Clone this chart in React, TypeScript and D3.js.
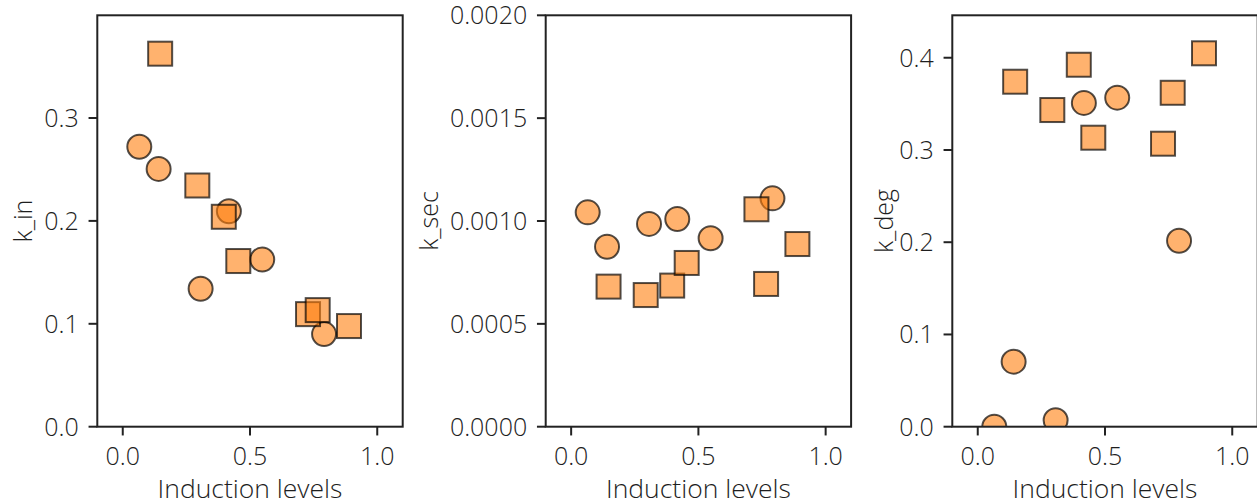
import React from "react";
import * as d3 from "d3";

// Shared induction levels (x) for the two marker groups
const circleX = [0.065, 0.141, 0.306, 0.417, 0.548, 0.791];
const squareX = [0.147, 0.293, 0.397, 0.454, 0.728, 0.766, 0.889];

// k_in
const kInCircles = [0.272, 0.2505, 0.134, 0.2094, 0.1625, 0.09];
const kInSquares = [0.3625, 0.2344, 0.204, 0.161, 0.1094, 0.1133, 0.0978];
// k_sec
const kSecCircles = [0.001042, 0.000875, 0.000986, 0.00101, 0.000916, 0.00111];
const kSecSquares = [0.000681, 0.00064, 0.000686, 0.000796, 0.001057, 0.000694, 0.000888];
// k_deg
const kDegCircles = [0.0, 0.0705, 0.007, 0.351, 0.3567, 0.2016];
const kDegSquares = [0.374, 0.3433, 0.3924, 0.3133, 0.3068, 0.362, 0.4048];

const xTicks = [0.0, 0.5, 1.0];
const kInTicks = [0.0, 0.1, 0.2, 0.3];
const kSecTicks = [0.0, 0.0005, 0.001, 0.0015, 0.002];
const kDegTicks = [0.0, 0.1, 0.2, 0.3, 0.4];

const xLabel = "Induction levels";

const W = 1257;
const H = 502;
const TOP = 15.3;
const BOTTOM = 426.7;
const PW = 305.4;
const FONT = "'Open Sans', 'Noto Sans', sans-serif";
const TXT = "#1e1e1e";
const FS = 25;
const LFS = 26.5;
const FW = 300;

const panels = [
  { left: 97.3, label: "k_in", yMax: 0.3998, ticks: kInTicks, fmt: ".1f", circles: kInCircles, squares: kInSquares, labelX: 31.5 },
  { left: 545.7, label: "k_sec", yMax: 0.002, ticks: kSecTicks, fmt: ".4f", circles: kSecCircles, squares: kSecSquares, labelX: 437.5 },
  { left: 952.3, label: "k_deg", yMax: 0.446, ticks: kDegTicks, fmt: ".1f", circles: kDegCircles, squares: kDegSquares, labelX: 893 },
];

const MS = 24; // marker size

function Panel({ p, idx }: { p: any; idx: number }) {
  const x = d3.scaleLinear().domain([-0.1, 1.1]).range([p.left, p.left + PW]);
  const y = d3.scaleLinear().domain([0, p.yMax]).range([BOTTOM, TOP]);
  const f = d3.format(p.fmt);
  const clipId = `clip${idx}`;
  const fill = "#ff7f0e";
  return (
    <g>
      <defs>
        <clipPath id={clipId}>
          <rect x={p.left} y={TOP} width={PW} height={BOTTOM - TOP} />
        </clipPath>
      </defs>
      <g clipPath={`url(#${clipId})`}>
        {p.circles.map((v: number, i: number) => (
          <circle
            key={"c" + i}
            cx={x(circleX[i])}
            cy={y(v)}
            r={MS / 2}
            fill={fill}
            fillOpacity={0.6}
            stroke="#000"
            strokeOpacity={0.68}
            strokeWidth={2}
          />
        ))}
        {p.squares.map((v: number, i: number) => (
          <rect
            key={"s" + i}
            x={x(squareX[i]) - MS / 2}
            y={y(v) - MS / 2}
            width={MS}
            height={MS}
            fill={fill}
            fillOpacity={0.6}
            stroke="#000"
            strokeOpacity={0.68}
            strokeWidth={2}
          />
        ))}
      </g>
      <rect x={p.left} y={TOP} width={PW} height={BOTTOM - TOP} fill="none" stroke="#222" strokeWidth={2} />
      {xTicks.map((t) => (
        <g key={"xt" + t}>
          <line x1={x(t)} x2={x(t)} y1={BOTTOM} y2={BOTTOM + 8.75} stroke="#222" strokeWidth={2} />
          <text x={x(t)} y={465} textAnchor="middle" fontFamily={FONT} fontSize={FS} fill={TXT} fontWeight={FW}>
            {d3.format(".1f")(t)}
          </text>
        </g>
      ))}
      {p.ticks.map((t: number) => (
        <g key={"yt" + t}>
          <line x1={p.left - 8.75} x2={p.left} y1={y(t)} y2={y(t)} stroke="#222" strokeWidth={2} />
          <text
            x={p.left - 18.5}
            y={y(t)}
            dy="0.36em"
            textAnchor="end"
            fontFamily={FONT}
            fontSize={FS}
            fill={TXT}
            fontWeight={FW}
          >
            {f(t)}
          </text>
        </g>
      ))}
      <text x={p.left + PW / 2} y={498} textAnchor="middle" fontFamily={FONT} fontSize={LFS} fill={TXT} fontWeight={FW}>
        {xLabel}
      </text>
      <text
        transform={`translate(${p.labelX},${(TOP + BOTTOM) / 2}) rotate(-90)`}
        textAnchor="middle"
        fontFamily={FONT}
        fontSize={FS}
        fill={TXT}
        fontWeight={FW}
      >
        {p.label}
      </text>
    </g>
  );
}

export default function App() {
  return (
    <svg
      width={W}
      height={H}
      style={{ position: "absolute", left: 0, top: 0, display: "block", background: "#fff" }}
    >
      {panels.map((p, i) => (
        <Panel key={i} p={p} idx={i} />
      ))}
    </svg>
  );
}
